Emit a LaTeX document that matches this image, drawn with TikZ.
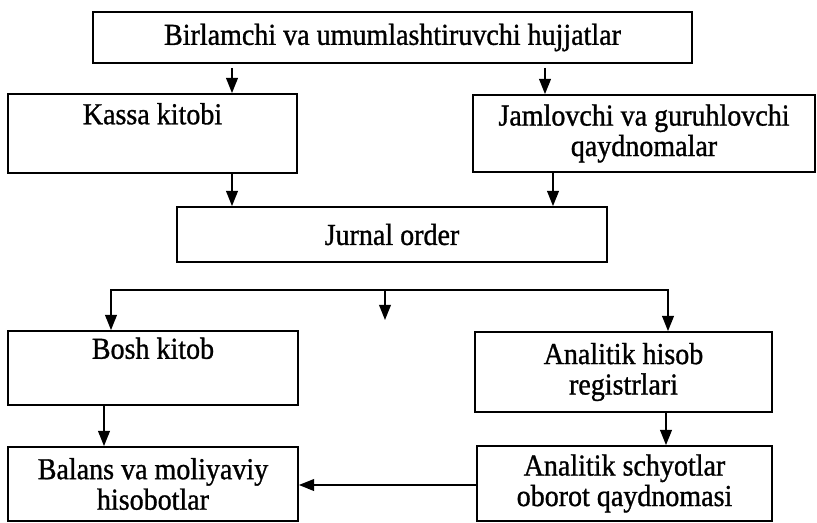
\documentclass[tikz,border=0pt]{standalone}
\usepackage{fontspec}
\setmainfont{Liberation Serif}[FakeStretch=0.92,FakeBold=1]
\usetikzlibrary{arrows.meta,positioning,calc}

\tikzset{
  blok/.style={draw, line width=1.5pt, align=center, inner sep=0pt,
    font=\fontsize{26}{26}\selectfont},
  arr/.style={line width=1.5pt, -{Triangle[length=13pt,width=10pt]}},
  arrs/.style={line width=1.5pt, {Triangle[length=13pt,width=10pt]}-{Triangle[length=13pt,width=10pt]}}
}

\begin{document}
\begin{tikzpicture}[x=0.03cm, y=-0.03cm]
        \useasboundingbox (0,0) rectangle (817,522);

        % Boxes
        \node[blok, minimum width=599*0.03cm, minimum height=51*0.03cm] (hujjat) at (392.5,37.5) {Birlamchi va umumlashtiruvchi hujjatlar};
        \node[blok, minimum width=289*0.03cm, minimum height=79*0.03cm] (kassa) at (152.5,133.5) {Kassa kitobi\\\strut};
        \node[blok, minimum width=342*0.03cm, minimum height=77*0.03cm] (jamlov) at (644,133.5) {Jamlovchi va guruhlovchi\\qaydnomalar};
        \node[blok, minimum width=430*0.03cm, minimum height=55*0.03cm] (jurnal) at (392,234.5) {Jurnal order};
        \node[blok, minimum width=290*0.03cm, minimum height=74*0.03cm] (bosh) at (153,368) {Bosh kitob\\\strut};
        \node[blok, minimum width=297*0.03cm, minimum height=80*0.03cm] (anreg) at (623.5,372) {Analitik hisob\\registrlari};
        \node[blok, minimum width=290*0.03cm, minimum height=74*0.03cm] (balans) at (153,484) {Balans va moliyaviy\\hisobotlar};
        \node[blok, minimum width=295*0.03cm, minimum height=75*0.03cm] (anschy) at (624.5,483.5) {Analitik schyotlar\\oborot qaydnomasi};

        % Helper points
        \coordinate (xk) at (232,0);
        \coordinate (xj1) at (545,0);
        \coordinate (xj2) at (553,0);
        \coordinate (busL) at (111,290);
        \coordinate (busM) at (385,290);
        \coordinate (busR) at (668,290);
        \coordinate (busMend) at (385,320);
        \coordinate (xb) at (104,0);
        \coordinate (xa) at (666,0);
        \coordinate (yh) at (0,485);

        % Arrows
        \draw[arr, shorten <=3.5pt] (hujjat.south -| xk) -- (kassa.north -| xk);
        \draw[arr, shorten <=3.5pt] (hujjat.south -| xj1) -- (jamlov.north -| xj1);
        \draw[arr] (kassa.south -| xk) -- (jurnal.north -| xk);
        \draw[arr] (jamlov.south -| xj2) -- (jurnal.north -| xj2);
        \draw[arrs] (bosh.north -| busL) -- (busL) -- (busR) -- (anreg.north -| busR);
        \draw[arr] (busM) -- (busMend);
        \draw[arr] (bosh.south -| xb) -- (balans.north -| xb);
        \draw[arr] (anreg.south -| xa) -- (anschy.north -| xa);
        \draw[arr] (anschy.west |- yh) -- (balans.east |- yh);
      \end{tikzpicture}
\end{document}
